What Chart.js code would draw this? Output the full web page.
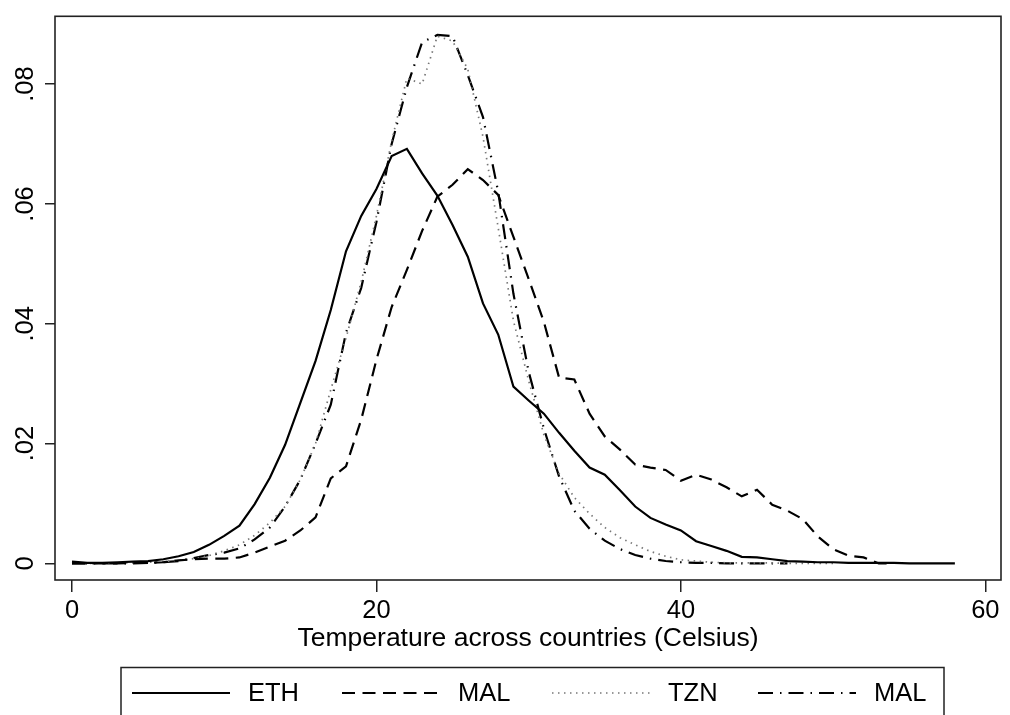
<!DOCTYPE html>
<html>
<head>
<meta charset="utf-8">
<title>Temperature density</title>
<script src="https://cdn.jsdelivr.net/npm/chart.js@4/dist/chart.umd.min.js"></script>
<style>
  html, body { margin: 0; padding: 0; background: #fff; }
  canvas { display: block; }
</style>
</head>
<body>
<canvas id="chart" width="1010" height="715"></canvas>
<script>
// temperature grid (Celsius) the densities are read at
const temps = [
  0, 1, 2, 3, 4, 5, 6, 7, 8, 9, 10, 11, 12, 13, 14, 15, 16, 17, 18, 19,
  20, 21, 22, 23, 24, 25, 26, 27, 28, 29, 30, 31, 32, 33, 34, 35, 36, 37, 38, 39,
  40, 41, 42, 43, 44, 45, 46, 47, 48, 49, 50, 51, 52, 53, 54, 55, 56, 57, 58,
];

const ethDensity = [
  0.0003, 0.0001, 0.0001, 0.0002, 0.0003, 0.0004, 0.0007, 0.0012, 0.0019, 0.0031,
  0.0046, 0.0063, 0.0099, 0.0143, 0.0198, 0.0268, 0.0338, 0.0423, 0.0521, 0.0580,
  0.0625, 0.0680, 0.0692, 0.0651, 0.0614, 0.0565, 0.0512, 0.0434, 0.0382, 0.0295,
  0.0272, 0.0250, 0.0218, 0.0188, 0.0160, 0.0148, 0.0122, 0.0095, 0.0076, 0.0065,
  0.0055, 0.0037, 0.0029, 0.0021, 0.0011, 0.0010, 0.0007, 0.0004, 0.0003, 0.0002,
  0.0002, 0.0001, 0.0001, 0.0001, 0.0001, 0.0000, 0.0000, 0.0000, 0.0000,
];

const malDensity = [
  0.0000, 0.0000, 0.0000, 0.0000, 0.0001, 0.0001, 0.0002, 0.0005, 0.0007, 0.0008,
  0.0008, 0.0010, 0.0018, 0.0028, 0.0038, 0.0055, 0.0077, 0.0142, 0.0162, 0.0240,
  0.0340, 0.0428, 0.0490, 0.0555, 0.0612, 0.0632, 0.0658, 0.0640, 0.0615, 0.0545,
  0.0475, 0.0403, 0.0310, 0.0307, 0.0250, 0.0212, 0.0190, 0.0165, 0.0160, 0.0156,
  0.0138, 0.0148, 0.0140, 0.0127, 0.0112, 0.0123, 0.0098, 0.0088, 0.0074, 0.0045,
  0.0024, 0.0013, 0.0010, 0.0000, 0.0000,
];

const tznDensity = [
  0.0001, 0.0000, 0.0000, 0.0001, 0.0001, 0.0002, 0.0003, 0.0005, 0.0008, 0.0013,
  0.0021, 0.0031, 0.0047, 0.0068, 0.0095, 0.0140, 0.0200, 0.0290, 0.0376, 0.0470,
  0.0580, 0.0705, 0.0810, 0.0800, 0.0880, 0.0872, 0.0825, 0.0712, 0.0560, 0.0405,
  0.0305, 0.0215, 0.0150, 0.0110, 0.0083, 0.0060, 0.0043, 0.0031, 0.0020, 0.0012,
  0.0006, 0.0004, 0.0002, 0.0001, 0.0001, 0.0001, 0.0001, 0.0000, 0.0000, 0.0000,
  0.0000,
];

const mal2Density = [
  0.0000, 0.0000, 0.0000, 0.0000, 0.0000, 0.0001, 0.0002, 0.0004, 0.0009, 0.0014,
  0.0018, 0.0025, 0.0040, 0.0060, 0.0095, 0.0140, 0.0200, 0.0265, 0.0385, 0.0460,
  0.0570, 0.0700, 0.0795, 0.0870, 0.0882, 0.0880, 0.0815, 0.0745, 0.0620, 0.0450,
  0.0320, 0.0225, 0.0145, 0.0088, 0.0058, 0.0038, 0.0024, 0.0014, 0.0008, 0.0004,
  0.0002, 0.0001, 0.0001, 0.0000, 0.0000, 0.0000, 0.0000, 0.0000,
];

const seriesNames = ["ETH", "MAL", "TZN", "MAL"];
const xTicks = [0, 20, 40, 60];
const yTicks = [0, 0.02, 0.04, 0.06, 0.08];

const FONT = "'Liberation Sans', Arial, Helvetica, sans-serif";

const toPoints = values => values.map((v, i) => ({ x: temps[i], y: v }));

const styles = [
  { color: "#000", width: 2.2, dash: [] },
  { color: "#000", width: 2.2, dash: [13, 7.5] },
  { color: "#777", width: 1.7, dash: [1.5, 4.5] },
  { color: "#000", width: 2.2, dash: [15, 7, 1.5, 7] },
];

const datasets = [ethDensity, malDensity, tznDensity, mal2Density].map((values, i) => ({
  label: seriesNames[i],
  data: toPoints(values),
  borderColor: styles[i].color,
  borderWidth: styles[i].width,
  borderDash: styles[i].dash,
  pointRadius: 0,
  tension: 0,
  fill: false,
}));

// box round the plot region
const framePlugin = {
  id: "frame",
  afterDatasetsDraw(chart) {
    const { ctx, chartArea: a } = chart;
    ctx.save();
    ctx.strokeStyle = "#222";
    ctx.lineWidth = 1.6;
    ctx.setLineDash([]);
    ctx.strokeRect(a.left, a.top, a.right - a.left, a.bottom - a.top);
    ctx.restore();
  },
};

// Stata-style legend in a box under the axis title
const legendPlugin = {
  id: "stataLegend",
  afterDraw(chart) {
    const ctx = chart.ctx;
    const y = 693;
    const starts = [132, 342, 552, 758];
    ctx.save();
    ctx.strokeStyle = "#222";
    ctx.lineWidth = 1.5;
    ctx.strokeRect(121, 667.5, 823, 80);
    ctx.font = `25.5px ${FONT}`;
    ctx.fillStyle = "#000";
    ctx.textBaseline = "middle";
    ctx.textAlign = "left";
    chart.data.datasets.forEach((ds, i) => {
      const x0 = starts[i];
      ctx.beginPath();
      ctx.strokeStyle = ds.borderColor;
      ctx.lineWidth = ds.borderWidth;
      ctx.setLineDash(ds.borderDash);
      ctx.moveTo(x0, y);
      ctx.lineTo(x0 + 98, y);
      ctx.stroke();
      ctx.setLineDash([]);
      ctx.fillText(ds.label, x0 + 116, y + 1);
    });
    ctx.restore();
  },
};

new Chart(document.getElementById("chart"), {
  type: "line",
  data: { datasets },
  plugins: [framePlugin, legendPlugin],
  options: {
    responsive: false,
    animation: false,
    devicePixelRatio: 1,
    layout: { padding: { top: 12, right: 9, left: 0, bottom: 0 } },
    plugins: {
      legend: { display: false },
      tooltip: { enabled: false },
    },
    scales: {
      x: {
        type: "linear",
        min: -1.117,
        max: 61.03,
        afterFit: scale => { scale.height = 135; },
        afterBuildTicks: scale => { scale.ticks = xTicks.map(v => ({ value: v })); },
        border: { display: false },
        grid: {
          drawOnChartArea: false,
          drawTicks: true,
          tickLength: 12,
          color: "#222",
          lineWidth: 1.5,
        },
        ticks: {
          color: "#000",
          padding: 4,
          maxRotation: 0,
          font: { family: FONT, size: 25.5 },
          callback: v => String(v),
        },
        title: {
          display: true,
          text: "Temperature across countries (Celsius)",
          color: "#000",
          font: { family: FONT, size: 26.5 },
          padding: { top: 0, bottom: 60 },
        },
      },
      y: {
        type: "linear",
        min: -0.002766,
        max: 0.09132,
        afterFit: scale => { scale.width = 55; },
        afterBuildTicks: scale => { scale.ticks = yTicks.map(v => ({ value: v })); },
        border: { display: false },
        grid: {
          drawOnChartArea: false,
          drawTicks: true,
          tickLength: 10,
          color: "#222",
          lineWidth: 1.5,
        },
        ticks: {
          color: "#000",
          padding: 1,
          minRotation: 90,
          maxRotation: 90,
          crossAlign: "center",
          font: { family: FONT, size: 25.5 },
          callback: v => (v === 0 ? "0" : v.toFixed(2).replace(/^0/, "")),
        },
      },
    },
  },
});
</script>
</body>
</html>
